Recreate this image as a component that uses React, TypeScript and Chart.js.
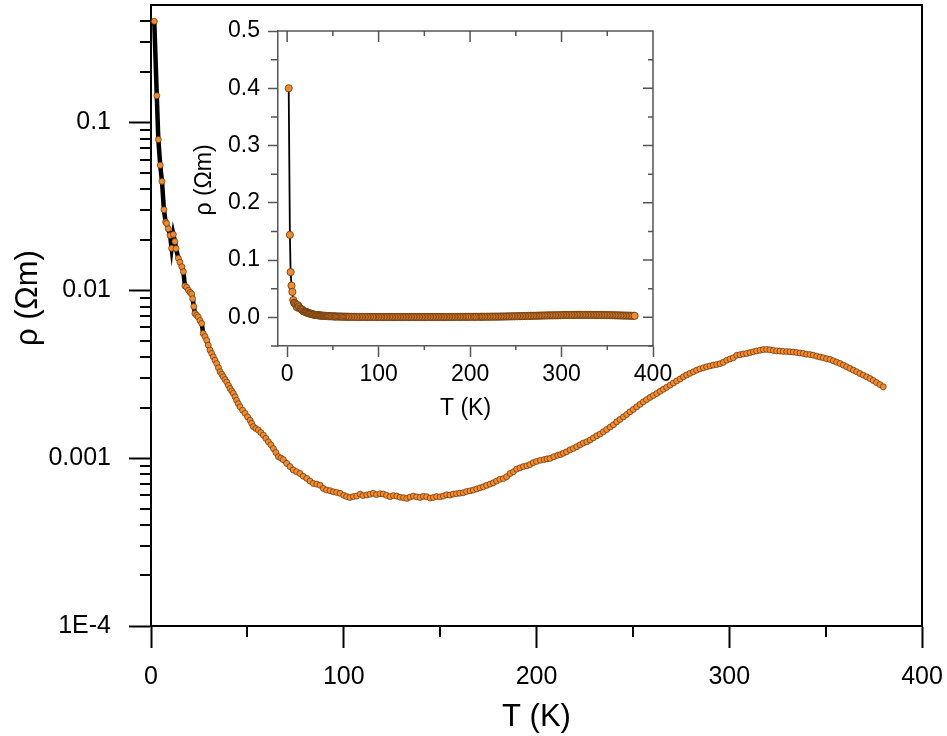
import React, { useEffect, useRef } from 'react';
import { Chart, registerables } from 'chart.js';

Chart.register(...registerables);
Chart.defaults.font.family = "'Liberation Sans', Arial, sans-serif";
Chart.defaults.color = '#000';

// Temperature (K)
const T = [
  1.7, 3.0, 3.8, 4.8, 5.7, 6.7, 7.6, 8.1, 9.0, 9.9, 10.7, 11.6, 12.4, 13.0, 14.2, 15.0, 16.0, 16.8, 17.6, 18.5,
  19.4, 20.3, 21.1, 21.6, 22.2, 22.8, 23.7, 24.5, 25.4, 26.3, 27.1, 28.0, 28.9, 29.7, 30.6, 31.5, 32.3, 33.2, 34.1, 35.0,
  35.8, 36.7, 37.5, 38.4, 39.3, 40.2, 41.0, 41.9, 42.7, 43.6, 44.4, 45.3, 46.2, 47.5, 48.8, 50.1, 51.4, 52.2, 53.1, 54.4,
  55.7, 57.0, 58.3, 59.6, 60.9, 62.2, 63.5, 64.8, 66.1, 67.4, 68.6, 70.4, 72.1, 73.8, 75.5, 77.3, 79.0, 80.8, 82.5, 84.2,
  86.0, 87.7, 89.4, 91.1, 92.9, 94.6, 96.3, 98.1, 100.0, 101.5, 103.2, 105.0, 106.7, 108.5, 110.0, 111.9, 113.6, 115.3, 117.0, 118.8,
  120.5, 122.2, 124.0, 125.8, 127.5, 129.2, 131.0, 132.7, 134.4, 136.1, 137.8, 139.6, 141.3, 143.0, 144.8, 146.5, 148.2, 150.0, 151.7, 153.4,
  155.1, 156.8, 158.5, 160.2, 162.0, 163.7, 165.5, 167.2, 169.0, 170.7, 172.4, 174.1, 175.9, 177.6, 179.3, 181.0, 182.8, 184.5, 186.3, 188.0,
  189.7, 191.4, 193.2, 195.0, 196.6, 198.3, 200.0, 202.0, 204.0, 205.5, 207.0, 209.0, 211.0, 212.5, 213.9, 215.6, 217.4, 219.1, 220.9, 222.6,
  224.3, 226.1, 227.8, 229.5, 231.3, 233.0, 234.7, 236.4, 238.2, 239.9, 241.6, 243.3, 245.1, 246.8, 248.5, 250.2, 252.0, 253.7, 255.4, 257.1,
  258.9, 260.6, 262.4, 264.1, 265.8, 267.5, 269.3, 271.0, 272.7, 274.5, 276.2, 277.9, 279.6, 281.4, 283.1, 284.8, 286.6, 288.3, 290.0, 291.7,
  293.5, 295.2, 296.9, 298.7, 300.4, 302.1, 303.9, 305.6, 307.3, 309.0, 310.8, 312.5, 314.2, 316.0, 317.7, 319.4, 321.1, 322.9, 324.6, 326.3,
  328.0, 329.8, 331.5, 333.2, 335.0, 336.7, 338.4, 340.1, 341.9, 343.6, 345.4, 347.1, 348.8, 350.5, 352.3, 354.0, 355.7, 357.5, 359.2, 360.9,
  362.6, 364.4, 366.1, 367.8, 369.5, 371.3, 373.0, 374.7, 376.4, 378.2, 379.9,
];

// Resistivity (Ohm m)
const RHO = [
  0.40, 0.144, 0.079, 0.0555, 0.0445, 0.0302, 0.0255, 0.0250, 0.0232, 0.0212, 0.0178, 0.0215, 0.0195, 0.0177, 0.0155, 0.0147, 0.0138, 0.0129, 0.0106, 0.0104,
  0.0100, 0.0097, 0.0095, 0.0089, 0.0080, 0.00726, 0.0071, 0.00693, 0.0066, 0.00634, 0.00552, 0.0053, 0.00504, 0.00471, 0.0044, 0.0042, 0.00401, 0.00383, 0.00366, 0.00345,
  0.00327, 0.00316, 0.00305, 0.00294, 0.00284, 0.00271, 0.0026, 0.00251, 0.00243, 0.00232, 0.00221, 0.00211, 0.00202, 0.00193, 0.00185, 0.00176, 0.00168, 0.00161, 0.00154, 0.0015,
  0.00147, 0.00142, 0.00137, 0.00131, 0.00125, 0.0012, 0.00114, 0.00108, 0.00102, 0.001, 0.00098, 0.00093, 0.00089, 0.00085, 0.00083, 0.00081, 0.00078, 0.000757, 0.00073, 0.000707,
  0.0007, 0.00069, 0.00066, 0.000645, 0.00064, 0.00063, 0.000625, 0.000617, 0.0006, 0.00059, 0.000583, 0.00059, 0.000594, 0.00061, 0.000598, 0.000603, 0.00061, 0.000617, 0.000606, 0.000614,
  0.000611, 0.0006, 0.000589, 0.000598, 0.000594, 0.000585, 0.000581, 0.000575, 0.000586, 0.000594, 0.000588, 0.000583, 0.000592, 0.000589, 0.000578, 0.000583, 0.00059, 0.000588, 0.000594, 0.000605,
  0.000602, 0.000611, 0.000614, 0.000618, 0.000622, 0.000632, 0.000638, 0.000645, 0.000655, 0.000665, 0.000675, 0.000688, 0.0007, 0.000713, 0.00073, 0.000748, 0.000755, 0.000775, 0.00081, 0.00083,
  0.00086, 0.000875, 0.00089, 0.0009, 0.000915, 0.00094, 0.000955, 0.00097, 0.00098, 0.00099, 0.000995, 0.00102, 0.00104, 0.00105, 0.00107, 0.00109, 0.00112, 0.00114, 0.00117, 0.0012,
  0.00123, 0.00125, 0.00128, 0.00132, 0.00136, 0.00139, 0.001435, 0.00148, 0.00153, 0.00158, 0.001644, 0.0017, 0.00176, 0.00182, 0.001887, 0.00195, 0.00202, 0.00209, 0.002163, 0.00223,
  0.0023, 0.00236, 0.002427, 0.0025, 0.00257, 0.00264, 0.00272, 0.0028, 0.00288, 0.00296, 0.00305, 0.00313, 0.0032, 0.00327, 0.00334, 0.0034, 0.00345, 0.0035, 0.00354, 0.00358,
  0.00361, 0.00365, 0.00372, 0.00383, 0.0039, 0.00396, 0.0041, 0.00413, 0.00417, 0.0042, 0.00425, 0.0043, 0.00435, 0.00439, 0.00443, 0.00444, 0.00442, 0.00438, 0.00435, 0.00434,
  0.00432, 0.00431, 0.0043, 0.00428, 0.00425, 0.00423, 0.0042, 0.00416, 0.00414, 0.0041, 0.00405, 0.004, 0.00396, 0.00391, 0.00387, 0.0038, 0.00373, 0.00366, 0.00358, 0.0035,
  0.00342, 0.00334, 0.00327, 0.00319, 0.00312, 0.00305, 0.00298, 0.0029, 0.00282, 0.00274, 0.00266,
];

// Main axes ticks and titles
const X_MAJOR = [0, 100, 200, 300, 400];
const X_MINOR = [50, 150, 250, 350];
const Y_MAJOR = [1e-4, 1e-3, 1e-2, 1e-1];
const Y_MAJOR_LABELS = ['1E-4', '0.001', '0.01', '0.1'];
const Y_MINOR = [
  2e-4, 3e-4, 4e-4, 5e-4, 6e-4, 7e-4, 8e-4, 9e-4,
  2e-3, 3e-3, 4e-3, 5e-3, 6e-3, 7e-3, 8e-3, 9e-3,
  2e-2, 3e-2, 4e-2, 5e-2, 6e-2, 7e-2, 8e-2, 9e-2,
  0.2, 0.3, 0.4,
];
const X_TITLE = 'T (K)';
const Y_TITLE = 'ρ (Ωm)';

// Inset axes ticks
const IX_MAJOR = [0, 100, 200, 300, 400];
const IX_MINOR = [50, 150, 250, 350];
const IY_MAJOR = [0, 0.1, 0.2, 0.3, 0.4, 0.5];
const IY_MAJOR_LABELS = ['0.0', '0.1', '0.2', '0.3', '0.4', '0.5'];
const IY_MINOR = [-0.05, 0.05, 0.15, 0.25, 0.35, 0.45];

const FONT = "'Liberation Sans', Arial, sans-serif";
const ORANGE = '#F58A2A';
const POINT_EDGE = '#5e3510';
const INSET_FRAME = '#555555';

function labelFor(v: number, majors: number[], labels: string[]) {
  for (let i = 0; i < majors.length; i++) {
    if (Math.abs(v - majors[i]) <= Math.abs(majors[i]) * 1e-6 + 1e-12) return labels[i];
  }
  return '';
}

function noScalePadding(s: any) {
  s.paddingLeft = 0;
  s.paddingRight = 0;
  s.paddingTop = 0;
  s.paddingBottom = 0;
}

function drawVerticalTitle(ctx: CanvasRenderingContext2D, text: string, cx: number, cy: number, size: number) {
  ctx.save();
  ctx.translate(cx, cy);
  ctx.rotate(-Math.PI / 2);
  ctx.fillStyle = '#000';
  ctx.font = `${size}px ${FONT}`;
  ctx.textAlign = 'center';
  ctx.textBaseline = 'middle';
  ctx.fillText(text, 0, 0);
  ctx.restore();
}

export default function App() {
  const mainRef = useRef<HTMLCanvasElement | null>(null);
  const insetRef = useRef<HTMLCanvasElement | null>(null);

  useEffect(() => {
    const points = T.map((t, i) => ({ x: t, y: RHO[i] }));

    const mainPlugin = {
      id: 'mainFrame',
      afterDraw(chart: any) {
        const { ctx, chartArea } = chart;
        const { left, right, top, bottom } = chartArea;
        const x = chart.scales.x;
        const y = chart.scales.y;
        ctx.save();
        ctx.strokeStyle = '#000';
        ctx.lineWidth = 2;
        ctx.beginPath();
        ctx.moveTo(left - 1, top);
        ctx.lineTo(right, top);
        ctx.lineTo(right, bottom + 1);
        X_MINOR.forEach((v) => {
          const px = Math.round(x.getPixelForValue(v));
          ctx.moveTo(px, bottom);
          ctx.lineTo(px, bottom + 11);
        });
        Y_MINOR.forEach((v) => {
          const py = Math.round(y.getPixelForValue(v));
          ctx.moveTo(left, py);
          ctx.lineTo(left - 11, py);
        });
        ctx.stroke();
        ctx.restore();
        drawVerticalTitle(ctx, Y_TITLE, 28, 298, 31);
      },
    };

    const main = new Chart(mainRef.current as HTMLCanvasElement, {
      type: 'scatter',
      data: {
        datasets: [
          {
            data: points,
            showLine: true,
            borderColor: '#000',
            borderWidth: 4.5,
            pointRadius: 3,
            pointBackgroundColor: ORANGE,
            pointBorderColor: POINT_EDGE,
            pointBorderWidth: 0.7,
            tension: 0,
          },
        ],
      },
      options: {
        responsive: false,
        animation: false,
        events: [],
        layout: { padding: { left: 0, top: 5, right: 25, bottom: 0 } },
        plugins: { legend: { display: false }, tooltip: { enabled: false } },
        scales: {
          x: {
            type: 'linear',
            min: 0,
            max: 400,
            afterBuildTicks: (s: any) => {
              s.ticks = X_MAJOR.map((v) => ({ value: v }));
            },
            afterFit: (s: any) => {
              s.height = 110;
              noScalePadding(s);
            },
            ticks: {
              autoSkip: false,
              maxRotation: 0,
              padding: 14,
              color: '#000',
              font: { size: 25, family: FONT },
              callback: (v: any) => String(v),
            },
            grid: { drawOnChartArea: false, tickLength: 22, tickColor: '#000', tickWidth: 2 },
            border: { display: true, color: '#000', width: 2 },
            title: {
              display: true,
              text: X_TITLE,
              color: '#000',
              font: { size: 31, family: FONT },
              padding: { top: 0, bottom: 0 },
            },
          },
          y: {
            type: 'logarithmic',
            min: 1e-4,
            max: 0.5,
            afterBuildTicks: (s: any) => {
              s.ticks = Y_MAJOR.map((v) => ({ value: v }));
            },
            afterFit: (s: any) => {
              s.width = 151;
              noScalePadding(s);
            },
            ticks: {
              autoSkip: false,
              padding: 18,
              color: '#000',
              font: { size: 25, family: FONT },
              callback: (v: any) => labelFor(Number(v), Y_MAJOR, Y_MAJOR_LABELS),
            },
            grid: { drawOnChartArea: false, tickLength: 22, tickColor: '#000', tickWidth: 2 },
            border: { display: true, color: '#000', width: 2 },
            title: { display: false },
          },
        },
      } as any,
      plugins: [mainPlugin],
    });

    const insetPlugin = {
      id: 'insetFrame',
      afterDraw(chart: any) {
        const { ctx, chartArea } = chart;
        const { left, right, top, bottom } = chartArea;
        const x = chart.scales.x;
        const y = chart.scales.y;
        ctx.save();
        ctx.strokeStyle = INSET_FRAME;
        ctx.lineWidth = 1.5;
        ctx.beginPath();
        ctx.moveTo(left, top);
        ctx.lineTo(right, top);
        ctx.lineTo(right, bottom);
        IX_MAJOR.forEach((v) => {
          const px = x.getPixelForValue(v);
          ctx.moveTo(px, top);
          ctx.lineTo(px, top + 11);
        });
        IX_MINOR.forEach((v) => {
          const px = x.getPixelForValue(v);
          ctx.moveTo(px, top);
          ctx.lineTo(px, top + 5);
          ctx.moveTo(px, bottom);
          ctx.lineTo(px, bottom + 4);
        });
        IY_MAJOR.forEach((v) => {
          const py = y.getPixelForValue(v);
          ctx.moveTo(right, py);
          ctx.lineTo(right - 10, py);
        });
        IY_MINOR.forEach((v) => {
          const py = y.getPixelForValue(v);
          ctx.moveTo(right, py);
          ctx.lineTo(right - 5, py);
          ctx.moveTo(left, py);
          ctx.lineTo(left - 7, py);
        });
        ctx.stroke();
        ctx.restore();
        drawVerticalTitle(ctx, Y_TITLE, 35, 165, 23);
      },
    };

    const inset = new Chart(insetRef.current as HTMLCanvasElement, {
      type: 'scatter',
      data: {
        datasets: [
          {
            data: points,
            showLine: true,
            borderColor: '#000',
            borderWidth: 1.8,
            pointRadius: 3.6,
            pointBackgroundColor: ORANGE,
            pointBorderColor: POINT_EDGE,
            pointBorderWidth: 0.8,
            tension: 0,
          },
        ],
      },
      options: {
        responsive: false,
        animation: false,
        events: [],
        layout: { padding: { left: 0, top: 16, right: 25, bottom: 0 } },
        plugins: { legend: { display: false }, tooltip: { enabled: false } },
        scales: {
          x: {
            type: 'linear',
            min: -10,
            max: 400,
            afterBuildTicks: (s: any) => {
              s.ticks = IX_MAJOR.map((v) => ({ value: v }));
            },
            afterFit: (s: any) => {
              s.height = 89;
              noScalePadding(s);
            },
            ticks: {
              autoSkip: false,
              maxRotation: 0,
              padding: 4,
              color: '#000',
              font: { size: 23, family: FONT },
              callback: (v: any) => String(v),
            },
            grid: { drawOnChartArea: false, tickLength: 11, tickColor: INSET_FRAME, tickWidth: 1.5 },
            border: { display: true, color: INSET_FRAME, width: 1.5 },
            title: {
              display: true,
              text: X_TITLE,
              color: '#000',
              font: { size: 23, family: FONT },
              padding: { top: 0, bottom: 13 },
            },
          },
          y: {
            type: 'linear',
            min: -0.05,
            max: 0.5,
            afterBuildTicks: (s: any) => {
              s.ticks = IY_MAJOR.map((v) => ({ value: v }));
            },
            afterFit: (s: any) => {
              s.width = 108;
              noScalePadding(s);
            },
            ticks: {
              autoSkip: false,
              padding: 8,
              color: '#000',
              font: { size: 23, family: FONT },
              callback: (v: any) => labelFor(Number(v), IY_MAJOR, IY_MAJOR_LABELS),
            },
            grid: { drawOnChartArea: false, tickLength: 10, tickColor: INSET_FRAME, tickWidth: 1.5 },
            border: { display: true, color: INSET_FRAME, width: 1.5 },
            title: { display: false },
          },
        },
      } as any,
      plugins: [insetPlugin],
    });

    return () => {
      main.destroy();
      inset.destroy();
    };
  }, []);

  return (
    <div style={{ position: 'fixed', left: 0, top: 0, width: 947, height: 736, background: '#fff', overflow: 'hidden' }}>
      <canvas ref={mainRef} width={947} height={736} style={{ position: 'absolute', left: 0, top: 0, width: 947, height: 736 }} />
      <canvas ref={insetRef} width={508} height={420} style={{ position: 'absolute', left: 170, top: 15, width: 508, height: 420 }} />
    </div>
  );
}
